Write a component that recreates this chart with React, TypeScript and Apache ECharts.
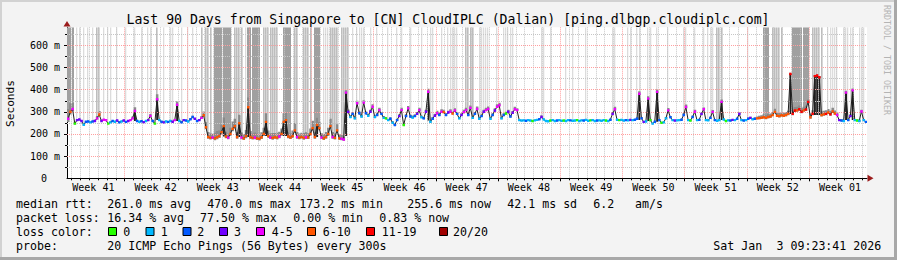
import React, { useEffect, useRef } from 'react';
import * as echarts from 'echarts';

// ---------------- data ----------------
const TITLE = 'Last 90 Days from Singapore to [CN] CloudIPLC (Dalian) [ping.dlbgp.cloudiplc.com]';
const WEEK_LABELS = ['Week 41', 'Week 42', 'Week 43', 'Week 44', 'Week 45', 'Week 46', 'Week 47', 'Week 48', 'Week 49', 'Week 50', 'Week 51', 'Week 52', 'Week 01'];
const Y_TICKS = [0, 100, 200, 300, 400, 500, 600];
const Y_MAX = 680;
const DAYS = 90;
const STEP = 0.25; // days per sample
const FIRST_WEEK = 6.466; // days from graph start to first Monday

// median rtt (ms), one value per 6 h
const MEDIAN = [
  268, 300, 312, 246, 262, 265, 258, 241, 255, 256,
  252, 256, 258, 270, 287, 258, 264, 262, 246, 252,
  258, 255, 260, 252, 256, 260, 254, 258, 262, 270,
  303, 258, 255, 257, 253, 258, 262, 281, 258, 246,
  356, 262, 255, 252, 256, 254, 258, 255, 262, 331,
  258, 252, 262, 260, 256, 266, 276, 268, 258, 262,
  272, 284, 230, 186, 182, 184, 180, 185, 190, 208,
  235, 188, 183, 200, 223, 235, 186, 248, 184, 180,
  190, 320, 186, 182, 184, 180, 178, 185, 200, 254,
  190, 184, 182, 185, 183, 188, 200, 254, 262, 188,
  184, 190, 216, 186, 183, 186, 182, 185, 184, 200,
  226, 186, 240, 226, 184, 180, 186, 200, 235, 186,
  182, 216, 180, 178, 175, 386, 299, 276, 290, 270,
  338, 293, 278, 341, 293, 282, 300, 322, 276, 285,
  307, 290, 272, 270, 262, 268, 250, 240, 262, 280,
  307, 240, 280, 315, 278, 274, 280, 290, 307, 275,
  270, 300, 390, 255, 268, 282, 293, 285, 300, 298,
  285, 296, 300, 292, 305, 290, 270, 285, 298, 307,
  285, 317, 272, 290, 312, 268, 280, 300, 307, 312,
  268, 285, 305, 322, 329, 270, 285, 292, 300, 278,
  295, 311, 307, 262, 260, 261, 259, 262, 260, 258,
  261, 263, 266, 276, 265, 258, 257, 260, 262, 258,
  260, 262, 259, 260, 258, 262, 261, 259, 260, 262,
  258, 261, 260, 263, 259, 261, 262, 258, 260, 261,
  259, 262, 260, 258, 264, 290, 311, 264, 262, 263,
  260, 262, 261, 263, 262, 264, 268, 381, 270, 254,
  256, 359, 262, 246, 255, 389, 262, 250, 252, 270,
  306, 275, 262, 260, 261, 262, 264, 285, 321, 262,
  260, 276, 300, 262, 263, 290, 311, 262, 261, 272,
  299, 262, 259, 262, 344, 265, 258, 261, 260, 263,
  262, 268, 290, 262, 260, 262, 268, 272, 266, 268,
  270, 271, 273, 275, 272, 276, 278, 285, 299, 282,
  280, 284, 282, 285, 290, 470, 290, 305, 306, 311,
  300, 306, 310, 344, 275, 290, 460, 463, 455, 285,
  288, 290, 296, 288, 301, 292, 285, 262, 260, 258,
  386, 262, 280, 396, 262, 260, 258, 301, 262, 254,
];

// loss colour class per sample (index into LOSS_COLORS)
const LOSS = [
  4, 5, 4, 0, 3, 3, 3, 1, 2, 2,
  1, 2, 3, 4, 5, 3, 4, 4, 0, 1,
  2, 1, 3, 2, 1, 3, 2, 3, 4, 4,
  4, 2, 1, 2, 3, 1, 3, 4, 2, 0,
  4, 1, 2, 3, 1, 2, 1, 3, 4, 4,
  1, 2, 3, 2, 1, 2, 2, 3, 2, 3,
  4, 5, 5, 5, 5, 4, 5, 5, 5, 5,
  5, 5, 4, 5, 5, 5, 5, 5, 4, 5,
  5, 5, 5, 5, 4, 5, 5, 5, 5, 5,
  5, 4, 5, 5, 5, 4, 5, 5, 5, 5,
  5, 5, 5, 4, 5, 5, 5, 4, 5, 5,
  5, 5, 5, 5, 4, 5, 5, 5, 5, 4,
  5, 5, 5, 4, 4, 4, 3, 1, 2, 1,
  4, 2, 1, 4, 2, 1, 3, 4, 1, 2,
  4, 2, 1, 0, 1, 2, 1, 2, 2, 3,
  4, 0, 2, 4, 2, 1, 2, 3, 4, 1,
  2, 3, 4, 1, 2, 3, 4, 2, 4, 5,
  2, 3, 4, 5, 4, 2, 1, 3, 4, 4,
  2, 4, 1, 2, 4, 1, 2, 3, 4, 4,
  1, 2, 3, 4, 4, 1, 2, 0, 3, 2,
  3, 4, 4, 1, 1, 1, 2, 1, 1, 0,
  1, 1, 2, 3, 1, 1, 1, 0, 1, 1,
  2, 1, 1, 0, 1, 1, 2, 1, 1, 0,
  1, 1, 2, 1, 1, 0, 1, 1, 2, 1,
  1, 1, 0, 1, 2, 3, 4, 1, 0, 1,
  1, 2, 1, 3, 1, 2, 2, 4, 2, 3,
  1, 4, 0, 1, 2, 4, 2, 0, 1, 1,
  4, 2, 1, 3, 1, 1, 2, 2, 4, 1,
  0, 2, 4, 1, 2, 3, 4, 1, 1, 2,
  4, 2, 1, 1, 4, 1, 0, 1, 2, 3,
  1, 2, 3, 1, 2, 1, 2, 3, 1, 2,
  5, 5, 5, 5, 5, 5, 5, 5, 5, 5,
  5, 5, 5, 5, 5, 6, 6, 6, 5, 6,
  6, 5, 6, 6, 5, 6, 6, 6, 6, 5,
  5, 6, 5, 6, 5, 5, 4, 3, 2, 1,
  4, 2, 3, 4, 1, 0, 1, 4, 1, 2,
];

// full-height smoke shade per sample (0 none .. 3 dark)
const HIGH_SMOKE = [
  3, 3, 3, 0, 1, 1, 0, 1, 0, 1,
  0, 1, 0, 2, 2, 0, 1, 0, 1, 1,
  0, 0, 1, 0, 0, 0, 1, 0, 0, 0,
  1, 0, 0, 1, 0, 0, 1, 1, 0, 0,
  2, 0, 0, 1, 0, 0, 1, 1, 0, 0,
  0, 1, 0, 0, 1, 0, 1, 0, 0, 0,
  2, 0, 2, 2, 2, 0, 3, 3, 3, 3,
  3, 3, 3, 3, 0, 2, 2, 2, 2, 0,
  1, 3, 3, 3, 3, 3, 3, 0, 2, 2,
  2, 2, 2, 2, 2, 0, 0, 3, 3, 3,
  3, 0, 2, 2, 0, 0, 2, 2, 2, 2,
  0, 3, 3, 3, 0, 1, 1, 1, 2, 2,
  2, 2, 0, 2, 2, 2, 2, 0, 1, 0,
  1, 1, 1, 1, 0, 0, 1, 0, 0, 1,
  0, 0, 0, 0, 1, 0, 0, 0, 1, 0,
  1, 0, 0, 0, 1, 0, 0, 0, 0, 1,
  0, 0, 0, 1, 1, 0, 0, 0, 1, 0,
  0, 1, 1, 1, 1, 1, 0, 0, 0, 2,
  2, 2, 2, 0, 0, 1, 1, 1, 1, 1,
  0, 0, 0, 1, 0, 0, 1, 1, 1, 1,
  1, 0, 0, 0, 0, 0, 0, 0, 0, 0,
  0, 0, 0, 1, 1, 0, 0, 1, 0, 0,
  0, 0, 0, 0, 1, 0, 0, 1, 0, 0,
  0, 0, 0, 1, 0, 0, 0, 0, 0, 0,
  0, 0, 0, 0, 0, 1, 1, 0, 0, 0,
  0, 0, 1, 1, 0, 0, 1, 1, 0, 0,
  0, 1, 1, 0, 0, 1, 0, 0, 0, 0,
  1, 0, 0, 0, 0, 0, 0, 1, 1, 0,
  0, 0, 1, 0, 0, 0, 1, 0, 1, 1,
  1, 0, 2, 2, 2, 0, 0, 0, 0, 0,
  0, 0, 0, 0, 0, 0, 1, 0, 0, 0,
  0, 0, 0, 3, 3, 3, 0, 2, 2, 2,
  2, 2, 0, 0, 0, 0, 3, 3, 3, 3,
  3, 3, 3, 3, 0, 2, 2, 2, 2, 2,
  0, 0, 1, 1, 1, 1, 1, 0, 0, 1,
  1, 1, 1, 1, 0, 0, 1, 1, 1, 0,
];

// dense smoke above the median (ms)
const SPREAD = [
  80, 70, 50, 15, 6, 6, 6, 6, 6, 6,
  6, 6, 10, 20, 30, 10, 6, 6, 6, 6,
  6, 6, 6, 6, 6, 6, 6, 6, 6, 15,
  30, 6, 6, 6, 6, 6, 6, 15, 6, 6,
  40, 10, 6, 6, 6, 6, 6, 6, 10, 30,
  6, 6, 6, 6, 6, 6, 10, 6, 6, 6,
  15, 30, 40, 40, 35, 30, 45, 50, 45, 60,
  70, 40, 35, 50, 60, 60, 40, 70, 40, 35,
  50, 80, 50, 35, 40, 40, 35, 40, 50, 70,
  45, 35, 40, 35, 40, 40, 45, 70, 60, 40,
  35, 45, 60, 40, 35, 35, 40, 40, 35, 45,
  60, 40, 60, 50, 35, 35, 40, 50, 60, 40,
  35, 50, 35, 30, 25, 20, 20, 15, 15, 15,
  20, 15, 15, 20, 15, 15, 15, 20, 15, 15,
  20, 15, 15, 12, 12, 12, 12, 12, 12, 15,
  20, 12, 15, 20, 15, 15, 15, 15, 20, 12,
  12, 15, 25, 12, 15, 15, 20, 20, 20, 20,
  15, 15, 20, 15, 20, 15, 12, 15, 20, 20,
  15, 20, 12, 15, 20, 12, 15, 15, 20, 20,
  12, 15, 20, 20, 20, 12, 15, 15, 15, 12,
  15, 20, 15, 5, 5, 5, 5, 5, 5, 5,
  5, 5, 5, 15, 5, 5, 5, 5, 5, 5,
  5, 5, 5, 5, 5, 5, 5, 5, 5, 5,
  5, 5, 5, 5, 5, 5, 5, 5, 5, 5,
  5, 5, 5, 5, 5, 15, 20, 5, 5, 5,
  5, 5, 5, 5, 5, 5, 10, 20, 10, 5,
  5, 20, 5, 5, 5, 20, 5, 5, 5, 10,
  20, 10, 5, 5, 5, 5, 5, 15, 20, 5,
  5, 10, 15, 5, 5, 10, 15, 5, 5, 10,
  15, 5, 5, 5, 20, 5, 5, 5, 5, 5,
  5, 5, 15, 5, 5, 5, 10, 10, 10, 10,
  15, 20, 20, 25, 25, 25, 25, 25, 25, 25,
  25, 25, 25, 25, 25, 10, 30, 30, 30, 30,
  30, 30, 30, 20, 30, 30, 10, 10, 10, 30,
  30, 30, 30, 30, 30, 25, 20, 10, 10, 10,
  15, 10, 15, 15, 10, 10, 10, 15, 10, 8,
];

// dark smoke columns below a jump of the median: [sample, lower edge ms]
const DEEP = [
  [30, 258], [40, 262], [49, 258], [70, 188], [77, 186], [81, 186], [89, 190], [97, 190], [98, 190],
  [112, 186], [125, 190], [162, 260], [257, 262], [261, 258], [265, 255], [294, 262],
  [325, 290], [336, 285], [337, 285], [338, 285], [350, 262], [353, 262],
];

const LOSS_COLORS = ['#26ff00', '#00b8ff', '#0059ff', '#7000ff', '#f000ff', '#ff5500', '#ff0000', '#a00000'];
const LOSS_LABELS = ['0', '1', '2', '3', '4-5', '6-10', '11-19', '20/20'];
const SMOKE_SHADES = ['', '#dcdcdc', '#bdbdbd', '#a0a0a0'];
const SMOKE_WIDTHS = [0, 1.3, 1.6, 2];

const RTT_LEGEND = ['median rtt:', '261.0 ms avg', '470.0 ms max', '173.2 ms min', '255.6 ms now', '42.1 ms sd', '6.2', 'am/s'];
const LOSS_LEGEND = ['packet loss:', '16.34 % avg', '77.50 % max', '0.00 % min', '0.83 % now'];
const PROBE_LEGEND = ['probe:', '20 ICMP Echo Pings (56 Bytes) every 300s'];
const DATE_PARTS = ['Sat Jan', '3 09:23:41 2026'];

// ---------------- layout ----------------
const FONT = '"DejaVu Sans Mono", "Liberation Mono", monospace';
const GL = 67, GT = 27.3, GW = 800, GH = 151;

function buildOption() {
  const deepMap: Record<number, number> = {};
  DEEP.forEach(([i, lo]) => { deepMap[i] = lo; });

  const smokeData = MEDIAN.map((m, i) => [i * STEP, m, HIGH_SMOKE[i], SPREAD[i], deepMap[i] ?? -1]);
  const lineData = MEDIAN.map((m, i) => [i * STEP + STEP / 2, m]);
  const lossData = MEDIAN.map((m, i) => [i * STEP, m, LOSS[i]]);

  // grid items: kind 0 = x minor, 1 = x major, 2 = y minor, 3 = y major
  const gridData: number[][] = [];
  for (let k = 0; k < DAYS; k++) {
    const d = (FIRST_WEEK % 1) + k;
    if (d >= DAYS) break;
    const isWeek = (k - Math.floor(FIRST_WEEK)) % 7 === 0;
    gridData.push([isWeek ? 1 : 0, d]);
  }
  for (let v = 50; v < Y_MAX; v += 50) gridData.push([v % 100 === 0 ? 3 : 2, v]);

  const weekData = WEEK_LABELS.map((_, k) => [FIRST_WEEK - 3.5 + 7 * k, k]);

  const txt = (text: string, x: number, y: number, size: number, extra: any = {}) => ({
    type: 'text', x, y, silent: true, z: 10,
    style: { text, fill: '#000', font: `${size}px ${FONT}`, align: 'left', textAlign: 'left', verticalAlign: 'middle', textVerticalAlign: 'middle', ...extra },
  });

  const graphic: any[] = [
    { type: 'rect', shape: { x: 0, y: 0, width: 897, height: 2 }, style: { fill: '#d2d2d2' }, silent: true },
    { type: 'rect', shape: { x: 0, y: 0, width: 2, height: 260 }, style: { fill: '#d2d2d2' }, silent: true },
    { type: 'rect', shape: { x: 0, y: 257, width: 897, height: 3 }, style: { fill: '#a8a8a8' }, silent: true },
    { type: 'rect', shape: { x: 894, y: 0, width: 3, height: 260 }, style: { fill: '#a8a8a8' }, silent: true },
    txt(TITLE, 448, 19, 13.2, { align: 'center', textAlign: 'center' }),
    { ...txt('Seconds', 10.5, 103.5, 11.2, { align: 'center', textAlign: 'center' }), rotation: Math.PI / 2 },
    { ...txt('RRDTOOL / TOBI OETIKER', 887, 60, 8.3, { align: 'center', textAlign: 'center', fill: '#b4b4b4' }), rotation: -Math.PI / 2 },
    { type: 'polygon', shape: { points: [[63.5, 26.5], [70.5, 26.5], [67, 21]] }, style: { fill: '#9b1c1c' }, silent: true, z: 10 },
    { type: 'polygon', shape: { points: [[867.5, 174.8], [867.5, 181.8], [873.5, 178.3]] }, style: { fill: '#9b1c1c' }, silent: true, z: 10 },
  ];

  const rttX = [16, 107.3, 207.3, 299.3, 407.3, 507.3, 593.3, 635];
  RTT_LEGEND.forEach((s, k) => graphic.push(txt(s, rttX[k], 204, 11.6)));
  const lossX = [16, 107.3, 200, 293.3, 379.3];
  LOSS_LEGEND.forEach((s, k) => graphic.push(txt(s, lossX[k], 218.3, 11.6)));
  graphic.push(txt('loss color:', 16, 232, 11.6));
  const boxX = [108.5, 146, 183, 219.5, 256.5, 307.5, 366.5, 439.5];
  const labX = [123.3, 160.7, 197.3, 234, 271.7, 322.7, 381.7, 453];
  LOSS_LABELS.forEach((s, k) => {
    graphic.push({ type: 'rect', shape: { x: boxX[k], y: 227.5, width: 8, height: 8 }, style: { fill: LOSS_COLORS[k], stroke: '#000', lineWidth: 1 }, silent: true, z: 10 });
    graphic.push(txt(s, labX[k], 232, 11.6));
  });
  const probeX = [16, 107.3];
  PROBE_LEGEND.forEach((s, k) => graphic.push(txt(s, probeX[k], 246.3, 11.6)));
  const dateX = [713.3, 776.5];
  DATE_PARTS.forEach((s, k) => graphic.push(txt(s, dateX[k], 246.3, 11.6)));

  return {
    animation: false,
    backgroundColor: '#f3f3f3',
    grid: { left: GL, top: GT, width: GW, height: GH, show: true, backgroundColor: '#ffffff', borderWidth: 0 },
    xAxis: {
      type: 'value', min: 0, max: DAYS,
      axisLine: { show: true, lineStyle: { color: '#000', width: 1 } },
      axisTick: { show: false }, axisLabel: { show: false }, splitLine: { show: false },
    },
    yAxis: {
      type: 'value', min: Y_TICKS[0], max: Y_MAX, interval: Y_TICKS[1] - Y_TICKS[0],
      axisLine: { show: true, lineStyle: { color: '#000', width: 1 } },
      axisTick: { show: false }, splitLine: { show: false },
      axisLabel: {
        show: true, showMaxLabel: false, margin: 7, color: '#000', fontFamily: FONT, fontSize: 10,
        formatter: (v: number) => (v === 0 ? '{z|0}' : `${v} m`),
        rich: { z: { padding: [0, 13, 0, 0], fontFamily: FONT, fontSize: 10, color: '#000' } },
      },
    },
    graphic,
    series: [
      {
        type: 'custom', name: 'smoke', z: 1, clip: true, silent: true,
        data: smokeData,
        renderItem: (params: any, api: any) => {
          const t0 = api.value(0), m = api.value(1), g = api.value(2), s = api.value(3), d = api.value(4);
          const x0 = api.coord([t0, m])[0];
          const x1 = api.coord([t0 + STEP, m])[0];
          const w = x1 - x0;
          const yOf = (v: number) => api.coord([t0, v])[1];
          const children: any[] = [];
          if (g > 0) {
            const cw = SMOKE_WIDTHS[g];
            const cx = Math.round(x0 + (w - cw) / 2);
            children.push({ type: 'rect', shape: { x: cx, y: yOf(Y_MAX), width: cw, height: yOf(m) - yOf(Y_MAX) }, style: { fill: SMOKE_SHADES[g] } });
          }
          const hi = m + s * 0.55, lo = m - 2 - s * 0.15;
          children.push({ type: 'rect', shape: { x: x0, y: yOf(hi), width: w + 0.3, height: yOf(lo) - yOf(hi) }, style: { fill: '#8a8a8a' } });
          if (d >= 0) children.push({ type: 'rect', shape: { x: x0 + 0.3, y: yOf(m), width: w - 0.3, height: yOf(d) - yOf(m) }, style: { fill: '#1e1e1e' } });
          return { type: 'group', children };
        },
      },
      {
        type: 'custom', name: 'grid', z: 2, clip: false, silent: true,
        data: gridData,
        renderItem: (params: any, api: any) => {
          const kind = api.value(0), v = api.value(1);
          const major = kind === 1 || kind === 3;
          const color = major ? '#ff9f9f' : '#c6c6c6';
          if (kind < 2) {
            const p0 = api.coord([v, 0]), p1 = api.coord([v, Y_MAX]);
            const x = Math.round(p0[0]) + 0.5;
            return {
              type: 'group', children: [
                { type: 'line', shape: { x1: x, y1: p1[1], x2: x, y2: p0[1] }, style: { stroke: color, lineWidth: 1, lineDash: [1, 1] } },
                { type: 'line', shape: { x1: x, y1: p0[1], x2: x, y2: p0[1] + (major ? 3 : 2) }, style: { stroke: '#000', lineWidth: 1 } },
              ],
            };
          }
          const q0 = api.coord([0, v]), q1 = api.coord([DAYS, v]);
          const y = Math.round(q0[1]) + 0.5;
          return {
            type: 'group', children: [
              { type: 'line', shape: { x1: q0[0], y1: y, x2: q1[0], y2: y }, style: { stroke: color, lineWidth: 1, lineDash: [1, 1] } },
              { type: 'line', shape: { x1: q0[0] - (major ? 3 : 2), y1: y, x2: q0[0], y2: y }, style: { stroke: '#000', lineWidth: 1 } },
            ],
          };
        },
      },
      {
        type: 'line', name: 'median', z: 3, silent: true, data: lineData, symbol: 'none',
        lineStyle: { color: '#202020', width: 1 },
      },
      {
        type: 'custom', name: 'loss', z: 4, clip: true, silent: true,
        data: lossData,
        renderItem: (params: any, api: any) => {
          const t0 = api.value(0), m = api.value(1), c = api.value(2);
          const p0 = api.coord([t0, m]), p1 = api.coord([t0 + STEP, m]);
          return { type: 'rect', shape: { x: p0[0], y: p0[1] - 1.2, width: p1[0] - p0[0] + 0.2, height: 2.4 }, style: { fill: LOSS_COLORS[c] } };
        },
      },
      {
        type: 'custom', name: 'weeks', z: 5, clip: false, silent: true,
        data: weekData,
        renderItem: (params: any, api: any) => {
          const c = api.value(0), k = api.value(1);
          const p = api.coord([c, 0]);
          return { type: 'text', x: p[0], y: p[1] + 9.5, style: { text: WEEK_LABELS[k], fill: '#000', font: `10px ${FONT}`, align: 'center', textAlign: 'center', verticalAlign: 'middle', textVerticalAlign: 'middle' } };
        },
      },
    ],
  };
}

export default function App() {
  const ref = useRef<HTMLDivElement>(null);
  useEffect(() => {
    if (!ref.current) return;
    const chart = echarts.init(ref.current, null, { renderer: 'svg', width: 897, height: 260 });
    chart.setOption(buildOption() as any);
    return () => chart.dispose();
  }, []);
  return <div ref={ref} style={{ position: 'fixed', left: 0, top: 0, width: 897, height: 260 }} />;
}
